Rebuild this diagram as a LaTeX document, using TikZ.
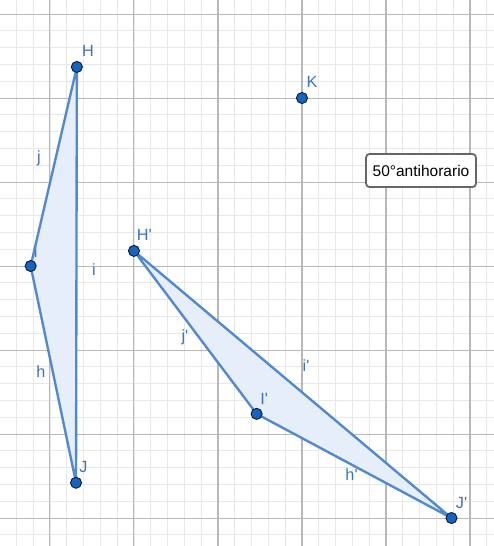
\documentclass[tikz,border=0pt]{standalone}
\usepackage{fontspec}
\setmainfont{Liberation Sans}[Ligatures=TeXOff]
\usepackage{tikz}
\definecolor{geoline}{HTML}{5189CF}
\definecolor{geopt}{HTML}{1565C0}
\definecolor{geolbl}{HTML}{3D72BA}
\definecolor{geofill}{HTML}{E6EEF9}

\begin{document}
\begin{tikzpicture}[x=2cm,y=2cm,
  seg/.style={geoline,line width=1.6pt,line join=round},
  pt/.style={circle,fill=geopt,draw=black!75!geopt,line width=0.6pt,inner sep=0pt,minimum size=7.5pt},
  lbl/.style={text=geolbl,font=\fontsize{11}{13}\selectfont,inner sep=0pt}]
\useasboundingbox (-0.595,-0.333) rectangle (5.274,6.167);
\draw[step=0.2,black!9,line width=0.5pt] (-0.6,-0.4) grid (5.4,6.2);
\draw[step=1,black!28,line width=0.7pt] (-0.6,-0.4) grid (5.4,6.2);
% original triangle and its image
\coordinate (H) at (0.32,5.37);
\coordinate (I) at (-0.23,3.0);
\coordinate (J) at (0.31,0.42);
\coordinate (K) at (3,5);
\coordinate (Hp) at (1.0,3.18);
\coordinate (Ip) at (2.46,1.24);
\coordinate (Jp) at (4.78,0);
\fill[geofill] (H) -- (I) -- (J) -- cycle;
\fill[geofill] (Hp) -- (Ip) -- (Jp) -- cycle;
\foreach \p/\l in {{(0.452,5.56)}/H,{(3.119,5.19)}/K,{(-0.17,3.17)}/I,{(0.397,0.611)}/J,
  {(-0.131,4.286)}/j,{(0.524,2.952)}/i,{(-0.107,1.742)}/h}
  \node[lbl] at \p {\l};
\foreach \p/\l in {{(1.123,3.37)}/H',{(2.551,1.413)}/I',{(4.9,0.175)}/J',
  {(1.607,2.151)}/j',{(3.048,1.81)}/i',{(3.59,0.512)}/h'}
  \node[lbl] at \p {\l};
\draw[seg] (H) -- (I) -- (J) -- cycle;
\draw[seg] (Hp) -- (Ip) -- (Jp) -- cycle;
\foreach \n in {H,I,J,K,Hp,Ip,Jp}
  \node[pt] (pt\n) at (\n) {};
\node[draw=black!60,fill=white,line width=1.2pt,rounded corners=2.5pt,
  minimum width=2.62cm,minimum height=0.79cm,inner sep=0pt,
  font=\fontsize{10.5}{12}\selectfont] (rot) at (4.417,4.137) {50°antihorario};
\end{tikzpicture}
\end{document}
